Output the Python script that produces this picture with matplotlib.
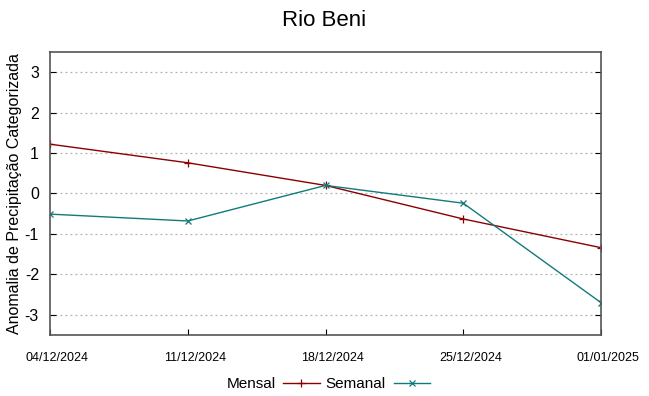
import matplotlib.pyplot as plt
import matplotlib.transforms as mtransforms
from datetime import datetime

plt.rcParams['font.family'] = ['Liberation Sans', 'DejaVu Sans']
plt.rcParams['axes.unicode_minus'] = False

datas = ['04/12/2024', '11/12/2024', '18/12/2024', '25/12/2024', '01/01/2025']
mensal = [1.22, 0.76, 0.20, -0.63, -1.34]
semanal = [-0.51, -0.68, 0.20, -0.24, -2.70]

x = [datetime.strptime(d, '%d/%m/%Y') for d in datas]

fig = plt.figure(figsize=(6.49, 3.96), dpi=100)
ax = fig.add_axes([50 / 649, 1 - 335 / 396, 551 / 649, 283 / 396])

ax.plot(x, mensal, color='#8b0000', lw=1, marker='+', ms=6, mew=0.9, label='Mensal')
ax.plot(x, semanal, color='#137a7a', lw=1, marker='x', ms=5, mew=0.9, label='Semanal')

ax.set_xlim(x[0], x[-1])
ax.set_ylim(-3.5, 3.5)
ax.set_xticks(x)
ax.set_xticklabels(datas, fontsize=9)
ax.set_yticks(range(-3, 4))
ax.tick_params(axis='y', labelsize=11.5, direction='in', right=True, length=4, pad=8)
ax.tick_params(axis='x', direction='in', top=False, length=4, pad=12)
off = mtransforms.ScaledTranslation(7 / 100, 0, fig.dpi_scale_trans)
for lab in ax.get_xticklabels():
    lab.set_transform(lab.get_transform() + off)
ax.grid(True, axis='y', linestyle=(0, (1.5, 2.5)), color='#b0b0b0', lw=0.9)
for s in ax.spines.values():
    s.set_color('#555555')
    s.set_linewidth(1.2)

ax.set_ylabel('Anomalia de Precipitação Categorizada', fontsize=11.5, labelpad=2)
fig.suptitle('Rio Beni', fontsize=16, y=0.975)

leg = ax.legend(loc='upper center', bbox_to_anchor=(0.505, -0.1), ncol=2, frameon=False,
                markerfirst=False, fontsize=11, handlelength=2.4, columnspacing=0.4,
                handletextpad=0.5)

fig.savefig('out.png', dpi=100)
